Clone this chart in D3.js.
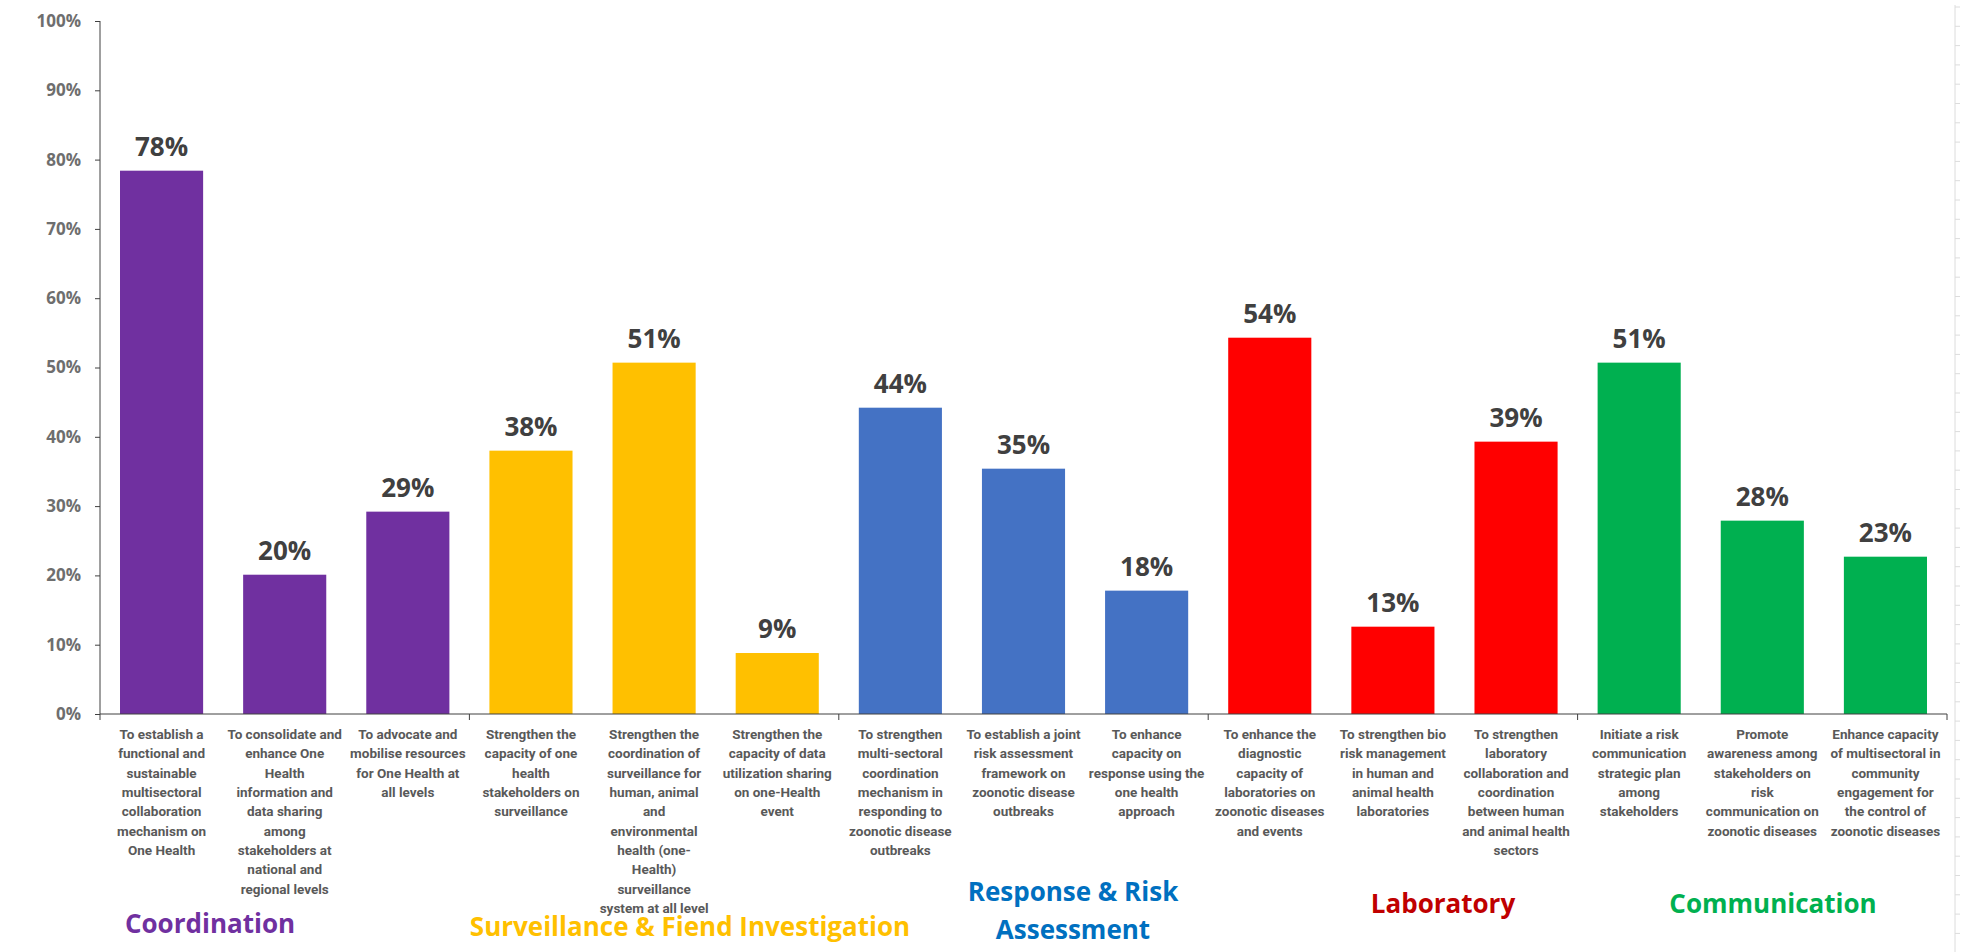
<!DOCTYPE html>
<html>
<head>
<meta charset="utf-8">
<script src="https://cdn.jsdelivr.net/npm/d3@7"></script>
<style>
  html, body { margin: 0; padding: 0; background: #fff; }
  svg { display: block; }
  .y.axis text { font-family: "Open Sans", sans-serif; font-weight: 700; font-size: 17px; fill: #6e6e6e; }
  .x.axis text { font-family: Roboto, "Open Sans", sans-serif; font-weight: 700; font-size: 13.5px; fill: #595959; }
  .axis path, .axis line { stroke: #404040; }
  .val { font-family: "Open Sans", sans-serif; font-weight: 700; font-size: 26px; fill: #404040; }
  .grp { font-family: "Open Sans", sans-serif; font-weight: 700; font-size: 26px; }
</style>
</head>
<body>
<div id="chart"></div>
<script>
// categories (line breaks as in the original axis)
var categories = [
  "To establish a|functional and|sustainable|multisectoral|collaboration|mechanism on|One Health",
  "To consolidate and|enhance One|Health|information and|data sharing|among|stakeholders at|national and|regional levels",
  "To advocate and|mobilise resources|for One Health at|all levels",
  "Strengthen the|capacity of one|health|stakeholders on|surveillance",
  "Strengthen the|coordination of|surveillance for|human, animal|and|environmental|health (one-|Health)|surveillance|system at all level",
  "Strengthen the|capacity of data|utilization sharing|on one-Health|event",
  "To strengthen|multi-sectoral|coordination|mechanism in|responding to|zoonotic disease|outbreaks",
  "To establish a joint|risk assessment|framework on|zoonotic disease|outbreaks",
  "To enhance|capacity on|response using the|one health|approach",
  "To enhance the|diagnostic|capacity of|laboratories on|zoonotic diseases|and events",
  "To strengthen bio|risk management|in human and|animal health|laboratories",
  "To strengthen|laboratory|collaboration and|coordination|between human|and animal health|sectors",
  "Initiate a risk|communication|strategic plan|among|stakeholders",
  "Promote|awareness among|stakeholders on|risk|communication on|zoonotic diseases",
  "Enhance capacity|of multisectoral in|community|engagement for|the control of|zoonotic diseases"
];
var values = [78.4, 20.1, 29.2, 38.0, 50.7, 8.8, 44.2, 35.4, 17.8, 54.3, 12.6, 39.3, 50.7, 27.9, 22.7];
var labels = ["78%", "20%", "29%", "38%", "51%", "9%", "44%", "35%", "18%", "54%", "13%", "39%", "51%", "28%", "23%"];
var groupOf = [0, 0, 0, 1, 1, 1, 2, 2, 2, 3, 3, 3, 4, 4, 4];
var groupNames = ["Coordination", "Surveillance & Fiend Investigation", "Response & Risk|Assessment", "Laboratory", "Communication"];
var barColors = ["#7030A0", "#FFC000", "#4472C4", "#FF0000", "#00B050"];
var groupTextColors = ["#7030A0", "#FFC000", "#0070C0", "#C00000", "#00B050"];
var yTicks = [0, 10, 20, 30, 40, 50, 60, 70, 80, 90, 100];

var W = 1968, H = 952;
var margin = {top: 21, right: 21, bottom: 238, left: 100};
var width = W - margin.left - margin.right,
    height = H - margin.top - margin.bottom;

var svg = d3.select("#chart").append("svg")
    .attr("width", W)
    .attr("height", H);

// faint spreadsheet edge on the right
var edge = svg.append("g").attr("stroke", "#dcdcdc");
edge.append("line").attr("x1", 1955).attr("x2", 1955).attr("y1", 5).attr("y2", H);
edge.selectAll("line.rw").data(d3.range(7, H, 19.3)).enter().append("line")
    .attr("class", "rw")
    .attr("x1", 1955).attr("x2", 1960)
    .attr("y1", function(d){ return d; }).attr("y2", function(d){ return d; });

var g = svg.append("g")
    .attr("transform", "translate(" + margin.left + "," + margin.top + ")");

var x = d3.scaleBand()
    .domain(categories)
    .range([0, width])
    .paddingInner(0.325)
    .paddingOuter(0.1625);

var y = d3.scaleLinear()
    .domain([0, 100])
    .range([height, 0]);

// bars
g.selectAll(".bar").data(categories).enter().append("rect")
    .attr("class", "bar")
    .attr("x", function(d){ return x(d); })
    .attr("width", x.bandwidth())
    .attr("y", function(d, i){ return y(values[i]); })
    .attr("height", function(d, i){ return height - y(values[i]); })
    .attr("fill", function(d, i){ return barColors[groupOf[i]]; });

// value labels
g.selectAll(".val").data(categories).enter().append("text")
    .attr("class", "val")
    .attr("text-anchor", "middle")
    .attr("x", function(d){ return x(d) + x.bandwidth() / 2; })
    .attr("y", function(d, i){ return y(values[i]) - 15; })
    .text(function(d, i){ return labels[i]; });

// Y axis
var yAxis = d3.axisLeft(y)
    .tickValues(yTicks)
    .tickFormat(function(d){ return d + "%"; })
    .tickSize(5)
    .tickPadding(14);
g.append("g")
    .attr("class", "y axis")
    .call(yAxis)
    .select(".domain").attr("d", "M0," + height + "V0");

// X axis
var xAxis = d3.axisBottom(x).tickSize(0).tickPadding(0);
var xg = g.append("g")
    .attr("class", "x axis")
    .attr("transform", "translate(0," + height + ")")
    .call(xAxis);
xg.select(".domain").attr("d", "M0,0H" + width);
xg.selectAll(".tick text").each(function(d){
    var t = d3.select(this).text(null).attr("y", 0).attr("dy", null);
    d.split("|").forEach(function(line, k){
        t.append("tspan")
            .attr("x", 0)
            .attr("y", 25 + k * 19.33)
            .text(line);
    });
});

// group boundary ticks
var bounds = [0];
groupOf.forEach(function(gi, i){
    if (i > 0 && gi !== groupOf[i - 1]) bounds.push(x(categories[i]) - x.step() * x.paddingInner() / 2);
});
bounds.push(width);
xg.selectAll(".gtick").data(bounds).enter().append("line")
    .attr("class", "gtick")
    .attr("x1", function(d){ return d; }).attr("x2", function(d){ return d; })
    .attr("y1", 0).attr("y2", 6);

// group names (manual text boxes in the original)
var groupLabelPos = [[210, 933], [690, 936], [1073, 901], [1443, 913], [1773, 913]];
groupNames.forEach(function(name, i){
    var t = svg.append("text")
        .attr("class", "grp")
        .attr("text-anchor", "middle")
        .attr("fill", groupTextColors[i]);
    name.split("|").forEach(function(line, k){
        t.append("tspan")
            .attr("x", groupLabelPos[i][0])
            .attr("y", groupLabelPos[i][1] + k * 38)
            .text(line);
    });
});
</script>
</body>
</html>
